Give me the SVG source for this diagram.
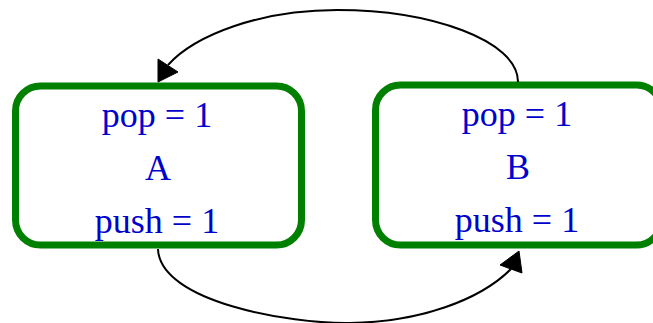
<svg xmlns="http://www.w3.org/2000/svg" width="653" height="323" viewBox="0 0 653 323">
<style>
.box{fill:none;stroke:#008000;stroke-width:7}
.lbl{font-family:"Liberation Serif","Times New Roman",serif;font-size:36px;fill:#0000cd;text-anchor:middle}
.edge{fill:none;stroke:#000;stroke-width:2}
.head{fill:#000;stroke:#000;stroke-width:1}
</style>
<rect width="653" height="323" fill="#fff"/>
<g id="A">
<rect class="box" x="15.5" y="86" width="286" height="159" rx="25" ry="25"/>
<text class="lbl" x="157" y="127">pop = 1</text>
<text class="lbl" x="158" y="180">A</text>
<text class="lbl" x="157" y="233">push = 1</text>
</g>
<g id="B">
<rect class="box" x="375.5" y="85" width="286" height="160" rx="25" ry="25"/>
<text class="lbl" x="517" y="126">pop = 1</text>
<text class="lbl" x="518" y="179">B</text>
<text class="lbl" x="517" y="232">push = 1</text>
</g>
<g id="edges">
<path class="edge" d="M518,82 C518,40 430,10 337,10 C260,10 195,35 168,65"/>
<polygon class="head" points="158,82 158,59 178,72"/>
<path class="edge" d="M158,249 C160,302 290,324 350,323 C420,322 480,300 511,269"/>
<polygon class="head" points="519,251 500,265 522,273"/>
</g>
</svg>
